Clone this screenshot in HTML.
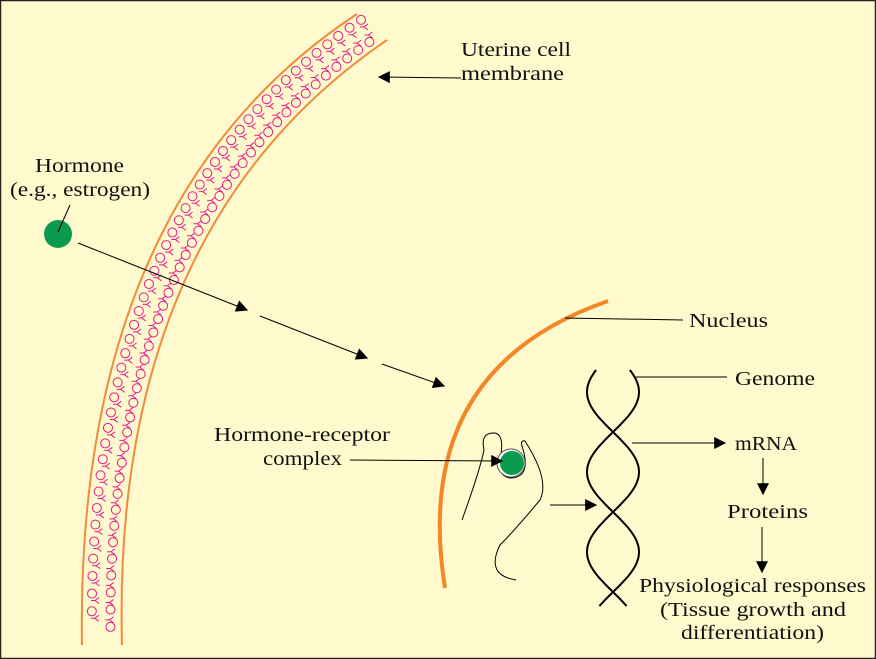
<!DOCTYPE html>
<html><head><meta charset="utf-8"><style>
html,body{margin:0;padding:0;background:#fff;}
svg{display:block}
text{font-family:"Liberation Serif",serif;font-size:20px;fill:#111;}
</style></head><body>
<svg id="d" width="876" height="659" viewBox="0 0 876 659">
<defs><marker id="ah2" viewBox="0 0 10 10" refX="9" refY="5" markerWidth="14" markerHeight="12" markerUnits="userSpaceOnUse" orient="auto"><path d="M0,0L10,5L0,10z" fill="#000"/></marker></defs>
<rect x="0.5" y="0.5" width="875" height="658" fill="#fffacd" stroke="#222" stroke-width="1.5"/>
<g id="rec"></g>
<path d="M357,14 Q75,200 82,645" fill="none" stroke="#f08a3c" stroke-width="2"/>
<path d="M387,40 Q111,228 122,645" fill="none" stroke="#f08a3c" stroke-width="2"/>
<path d="M608,301 Q410,370 445,588" fill="none" stroke="#f4862a" stroke-width="4"/>
<circle cx="58" cy="234" r="14" fill="#0a9b4f"/>
<line x1="58" y1="232" x2="70" y2="205" stroke="#000" stroke-width="1"/>
<text x="35" y="172" textLength="89" lengthAdjust="spacingAndGlyphs">Hormone</text>
<text x="10" y="196" textLength="140" lengthAdjust="spacingAndGlyphs">(e.g., estrogen)</text>
<g stroke="#000" stroke-width="1" fill="none">
<line x1="78" y1="243" x2="247" y2="310" marker-end="url(#ah2)"/>
<line x1="260" y1="316" x2="367" y2="358" marker-end="url(#ah2)"/>
<line x1="382" y1="364" x2="444" y2="386" marker-end="url(#ah2)"/>
</g>
<line x1="461" y1="78" x2="379" y2="77" stroke="#000" marker-end="url(#ah2)"/>
<text x="461" y="56" textLength="110" lengthAdjust="spacingAndGlyphs">Uterine cell</text>
<text x="461" y="80" textLength="103" lengthAdjust="spacingAndGlyphs">membrane</text>
<line x1="565" y1="318" x2="683" y2="320" stroke="#000"/>
<text x="689" y="327" textLength="79" lengthAdjust="spacingAndGlyphs">Nucleus</text>
<g fill="none" stroke="#000" stroke-width="1">
<path d="M462,520 Q480,470 484,450 Q480,432 495,433 Q505,435 500,460 Q498,478 512,478 Q532,476 522,446 Q520,440 525,441 Q550,480 540,500 Q515,530 500,545 Q485,575 516,580"/>
</g>
<circle cx="511" cy="463" r="14" fill="#fff" stroke="#555"/>
<circle cx="512" cy="463" r="12" fill="#0a9b4f"/>
<text x="214" y="441" textLength="176" lengthAdjust="spacingAndGlyphs">Hormone-receptor</text>
<text x="263" y="465" textLength="79" lengthAdjust="spacingAndGlyphs">complex</text>
<line x1="350" y1="460" x2="502" y2="461" stroke="#000" marker-end="url(#ah2)"/>
<line x1="550" y1="505" x2="596" y2="505" stroke="#000" marker-end="url(#ah2)"/>
<path id="sA" fill="none" stroke="#000" stroke-width="2"/>
<path id="sB" fill="none" stroke="#000" stroke-width="2"/>
<line x1="636" y1="377" x2="727" y2="377" stroke="#000"/>
<text x="735" y="385" textLength="80" lengthAdjust="spacingAndGlyphs">Genome</text>
<line x1="632" y1="443" x2="725" y2="443" stroke="#000" marker-end="url(#ah2)"/>
<text x="735" y="450" textLength="62" lengthAdjust="spacingAndGlyphs">mRNA</text>
<line x1="763" y1="458" x2="763" y2="494" stroke="#000" marker-end="url(#ah2)"/>
<text x="727" y="518" textLength="81" lengthAdjust="spacingAndGlyphs">Proteins</text>
<line x1="762" y1="527" x2="762" y2="572" stroke="#000" marker-end="url(#ah2)"/>
<text x="639" y="592" textLength="227" lengthAdjust="spacingAndGlyphs">Physiological responses</text>
<text x="660" y="616" textLength="186" lengthAdjust="spacingAndGlyphs">(Tissue growth and</text>
<text x="681" y="639" textLength="143" lengthAdjust="spacingAndGlyphs">differentiation)</text>
</svg>
<script>
function q(p0,p1,p2,t){return (1-t)*(1-t)*p0+2*(1-t)*t*p1+t*t*p2;}
var g=document.getElementById('rec'),ns='http://www.w3.org/2000/svg';
var N=48;
for(var row=0;row<2;row++){
 for(var i=0;i<N;i++){
  var t=(i+0.3+row*0.5)/N; if(t>0.985)continue;
  var f=row?0.72:0.25;
  var ox=q(357,75,82,t),oy=q(14,200,645,t),ix=q(387,111,122,t),iy=q(40,228,645,t);
  var x=ox+(ix-ox)*f,y=oy+(iy-oy)*f;
  var c=document.createElementNS(ns,'circle');
  
  
  c.setAttribute('cx',x);c.setAttribute('cy',y+(row?3:-3));c.setAttribute('r',4.5);
  c.setAttribute('fill','none');c.setAttribute('stroke','#e8178a');c.setAttribute('stroke-width','1');
  g.appendChild(c);
  var p=document.createElementNS(ns,'path');
  
  
  var yy=row?y-4:y+4, xx=x+(row?-1:3);
  p.setAttribute('d','M'+xx+','+yy+'l4,-3M'+xx+','+yy+'l4,3M'+xx+','+yy+'l-4,0');
  p.setAttribute('stroke','#e8178a');p.setAttribute('fill','none');p.setAttribute('stroke-width','1');
  g.appendChild(p);
 }
}
function strand(s){var d='';for(var y=370;y<=606;y+=2){var x=613+s*26*Math.sin(Math.PI*(y-432)/80);d+=(y==370?'M':'L')+x.toFixed(1)+','+y;}return d;}
document.getElementById('sA').setAttribute('d',strand(1));
document.getElementById('sB').setAttribute('d',strand(-1));
</script>
</body></html>
